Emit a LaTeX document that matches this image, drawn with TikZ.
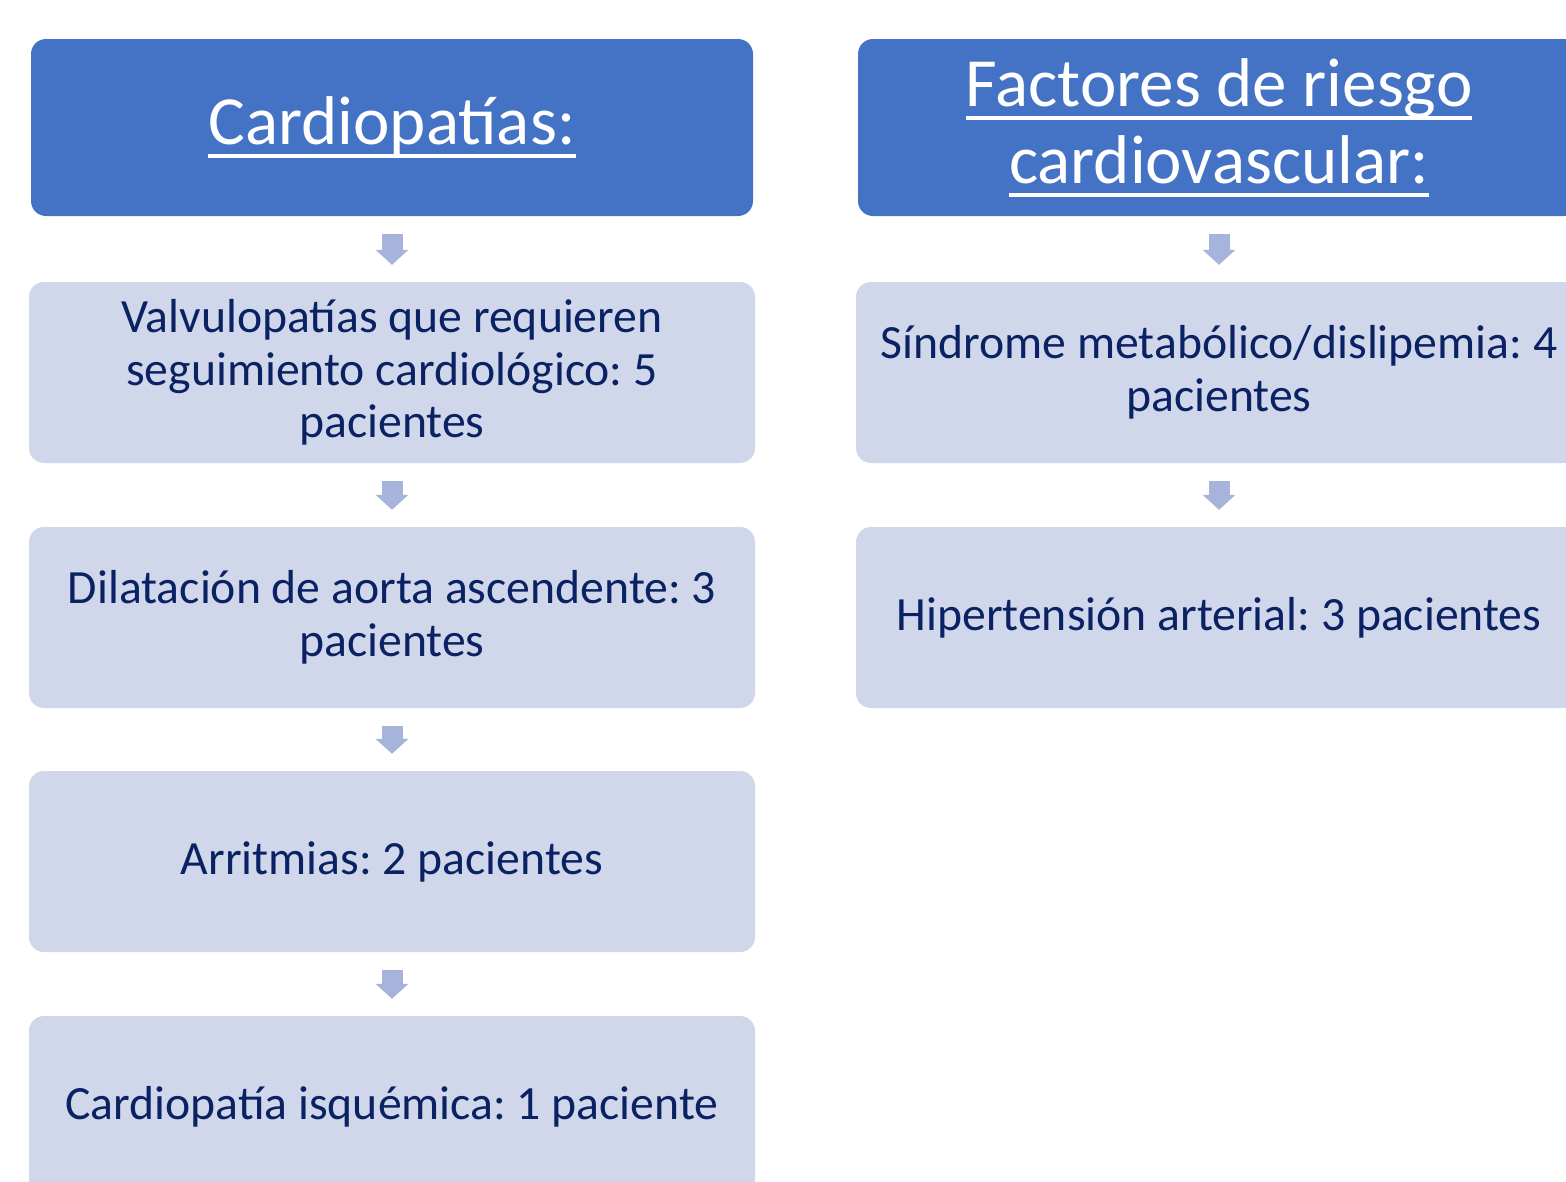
\documentclass[tikz,border=0pt]{standalone}
\usepackage{fontspec}
\setmainfont{Carlito}
\frenchspacing
\usetikzlibrary{arrows.meta}
\definecolor{hdrblue}{HTML}{4472C4}
\definecolor{boxfill}{HTML}{D0D7EA}
\definecolor{arrowc}{HTML}{A6B4DB}
\definecolor{navy}{HTML}{0A2263}
\newcommand\hdrul[1]{\setbox0\hbox{#1}\rlap{\rule[-13.5pt]{\wd0}{4pt}}\box0}
\tikzset{
  hdr/.style={fill=hdrblue, rounded corners=15pt, minimum width=722pt, minimum height=177pt,
    text=white, align=center, inner sep=0pt, font=\fontsize{69}{77}\selectfont},
  item/.style={fill=boxfill, rounded corners=15pt, minimum width=726pt, minimum height=181pt,
    text=navy, align=center, inner sep=0pt, font=\fontsize{47.7}{52.5}\selectfont},
  blockarrow/.style={draw=arrowc, line width=21pt, -{Triangle[width=32pt,length=15pt]}, shorten <=18pt, shorten >=17pt}
}
\begin{document}
\begin{tikzpicture}[x=1pt,y=1pt]
\useasboundingbox (0,0) rectangle (1566,-1181);
\clip (0,0) rectangle (1566,-1181);
\node[hdr] (h1) at (392,-127.5) {\hdrul{Cardiopatías:}};
\node[hdr] (h2) at (1219,-127.5) {\hdrul{Factores de riesgo}\\\hdrul{cardiovascular:}};
\node[item] (b1) at (392,-372.5) {Valvulopatías que requieren\\seguimiento cardiológico: 5\\pacientes};
\node[item] (b2) at (392,-617.5) {Dilatación de aorta ascendente: 3\\pacientes};
\node[item] (b3) at (392,-861.5) {Arritmias: 2 pacientes};
\node[item] (b4) at (392,-1106.5) {Cardiopatía isquémica: 1 paciente};
\node[item] (r1) at (1219,-372.5) {Síndrome metabólico/dislipemia: 4\\pacientes};
\node[item] (r2) at (1219,-617.5) {Hipertensión arterial: 3 pacientes};
\draw[blockarrow] (h1.south) -- (b1.north);
\draw[blockarrow] (b1.south) -- (b2.north);
\draw[blockarrow] (b2.south) -- (b3.north);
\draw[blockarrow] (b3.south) -- (b4.north);
\draw[blockarrow] (h2.south) -- (r1.north);
\draw[blockarrow] (r1.south) -- (r2.north);
\end{tikzpicture}
\end{document}
